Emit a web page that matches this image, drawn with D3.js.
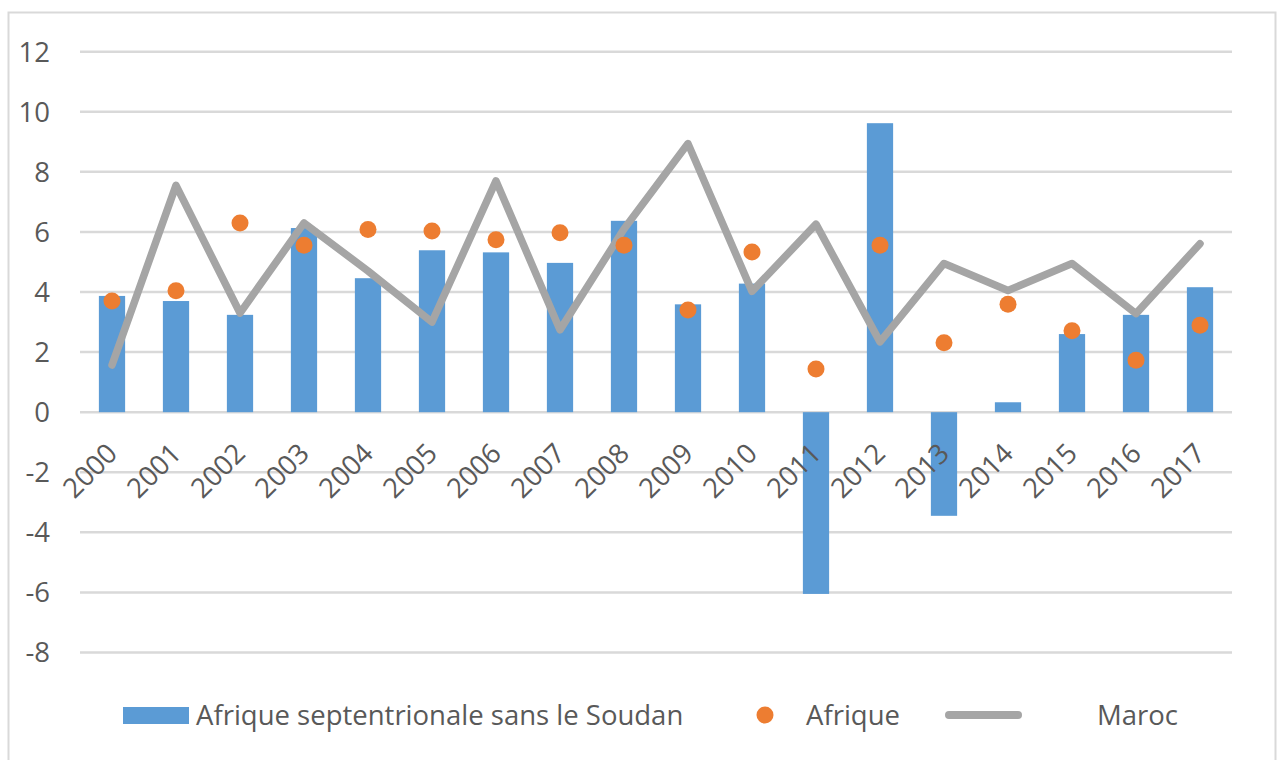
<!DOCTYPE html>
<html>
<head>
<meta charset="utf-8">
<script src="https://cdn.jsdelivr.net/npm/d3@7"></script>
<style>
  body { margin: 0; background: #fff; }
  text { font-family: "Open Sans", sans-serif; fill: #595959; }
</style>
</head>
<body>
<script>
// Data
const years = ["2000", "2001", "2002", "2003", "2004", "2005", "2006", "2007", "2008",
  "2009", "2010", "2011", "2012", "2013", "2014", "2015", "2016", "2017"];
const afriqueNord = [3.87, 3.70, 3.24, 6.13, 4.46, 5.39, 5.32, 4.97, 6.37,
  3.59, 4.28, -6.05, 9.62, -3.45, 0.33, 2.60, 3.24, 4.16];
const afrique = [3.70, 4.04, 6.30, 5.56, 6.08, 6.03, 5.74, 5.97, 5.56,
  3.40, 5.33, 1.44, 5.56, 2.31, 3.59, 2.71, 1.73, 2.89];
const maroc = [1.57, 7.55, 3.30, 6.30, 4.70, 3.00, 7.70, 2.74, 6.10,
  8.94, 4.02, 6.26, 2.34, 4.95, 4.05, 4.95, 3.28, 5.61];
const yTicks = [-8, -6, -4, -2, 0, 2, 4, 6, 8, 10, 12];
const seriesNames = ["Afrique septentrionale sans le Soudan", "Afrique", "Maroc"];

const w = 1282, h = 760;
const plot = { left: 80, right: 1232, top: 51.7, bottom: 652.5 };
const fontSize = "27.5px";

const svg = d3.select("body").append("svg")
  .attr("width", w)
  .attr("height", h);

// Chart frame
svg.append("rect")
  .attr("x", 8.5).attr("y", 12.5)
  .attr("width", 1267).attr("height", 760)
  .attr("fill", "none")
  .attr("stroke", "#d9d9d9")
  .attr("stroke-width", 2);

const x = d3.scaleBand()
  .domain(years)
  .range([plot.left, plot.right])
  .paddingInner(0.59)
  .paddingOuter(0.295);

const y = d3.scaleLinear()
  .domain([-8, 12])
  .range([plot.bottom, plot.top]);

// Gridlines
svg.append("g")
  .selectAll("line")
  .data(yTicks)
  .join("line")
  .attr("x1", plot.left)
  .attr("x2", plot.right)
  .attr("y1", d => y(d))
  .attr("y2", d => y(d))
  .attr("stroke", "#d9d9d9")
  .attr("stroke-width", 2.5);

// Y axis labels
svg.append("g")
  .selectAll("text")
  .data(yTicks)
  .join("text")
  .attr("x", 50)
  .attr("y", d => y(d))
  .attr("dy", "0.36em")
  .attr("text-anchor", "end")
  .style("font-size", fontSize)
  .text(d => d);

// Bars
svg.append("g")
  .selectAll("rect")
  .data(afriqueNord)
  .join("rect")
  .attr("x", (d, i) => x(years[i]))
  .attr("width", x.bandwidth())
  .attr("y", d => y(Math.max(0, d)))
  .attr("height", d => Math.abs(y(d) - y(0)))
  .attr("fill", "#5b9bd5");

// X axis labels, rotated
svg.append("g")
  .selectAll("text")
  .data(years)
  .join("text")
  .attr("transform", d => `translate(${x(d) + x.bandwidth() / 2 + 7},${y(0) + 43}) rotate(-45)`)
  .attr("text-anchor", "end")
  .style("font-size", fontSize)
  .text(d => d);

// Maroc line
const line = d3.line()
  .x((d, i) => x(years[i]) + x.bandwidth() / 2)
  .y(d => y(d));

svg.append("path")
  .datum(maroc)
  .attr("d", line)
  .attr("fill", "none")
  .attr("stroke", "#a5a5a5")
  .attr("stroke-width", 7.5)
  .attr("stroke-linejoin", "round")
  .attr("stroke-linecap", "round");

// Afrique dots
svg.append("g")
  .selectAll("circle")
  .data(afrique)
  .join("circle")
  .attr("cx", (d, i) => x(years[i]) + x.bandwidth() / 2)
  .attr("cy", d => y(d))
  .attr("r", 8.5)
  .attr("fill", "#ed7d31");

// Legend
const legend = svg.append("g").attr("transform", "translate(0,715)");
legend.append("rect")
  .attr("x", 123).attr("y", -8)
  .attr("width", 66).attr("height", 17)
  .attr("fill", "#5b9bd5");
legend.append("text")
  .attr("x", 196).attr("y", 0).attr("dy", "0.36em")
  .style("font-size", fontSize)
  .text(seriesNames[0]);
legend.append("circle")
  .attr("cx", 765).attr("cy", 0).attr("r", 8.5)
  .attr("fill", "#ed7d31");
legend.append("text")
  .attr("x", 806).attr("y", 0).attr("dy", "0.36em")
  .style("font-size", fontSize)
  .text(seriesNames[1]);
legend.append("line")
  .attr("x1", 949).attr("x2", 1018)
  .attr("y1", 0).attr("y2", 0)
  .attr("stroke", "#a5a5a5")
  .attr("stroke-width", 8)
  .attr("stroke-linecap", "round");
legend.append("text")
  .attr("x", 1097).attr("y", 0).attr("dy", "0.36em")
  .style("font-size", fontSize)
  .text(seriesNames[2]);
</script>
</body>
</html>
